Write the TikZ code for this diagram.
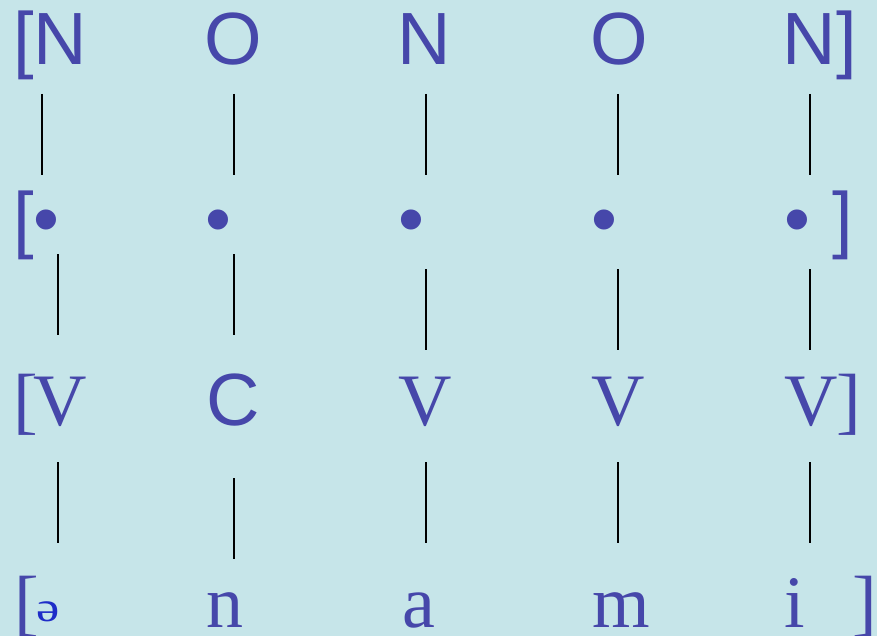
\documentclass[tikz,border=0pt]{standalone}
\usepackage{fontspec}
\setmainfont{Liberation Serif}
\newfontfamily\sansf{Liberation Sans}
\definecolor{bgc}{RGB}{198,229,233}
\definecolor{txc}{RGB}{70,71,170}
\definecolor{schwac}{RGB}{30,45,200}
\tikzset{
  sl/.style={anchor=base, inner sep=0pt, text=txc, font=\sansf\fontsize{74}{80}\selectfont},
  rl/.style={anchor=base, inner sep=0pt, text=txc, font=\rmfamily\fontsize{74}{80}\selectfont},
  flat/.style={text depth=0pt},
  assoc/.style={draw=black, line width=1.8pt}
}
\begin{document}
\begin{tikzpicture}[x=1pt,y=-1pt]
\fill[bgc] (0,0) rectangle (877,636);
\useasboundingbox (0,0) rectangle (877,636);
% row 1
\node[sl] (lb1) at (23.5,65) {[};
\node[sl] (n1) at (60.5,65) {N};
\node[sl] (o1) at (233.5,65) {O};
\node[sl] (n2) at (424.5,65) {N};
\node[sl] (o2) at (619.5,65) {O};
\node[sl] (n3) at (809.5,65) {N};
\node[sl] (rb1) at (847,65) {]};
% row 2
\node[sl] (lb2) at (24,244) {[};
\node[sl] (d1) at (46.7,244) {•};
\node[sl] (d2) at (218,244) {•};
\node[sl] (d3) at (411,244) {•};
\node[sl] (d4) at (604,244) {•};
\node[sl] (d5) at (797,244) {•};
\node[sl] (rb2) at (843,244) {]};
% row 3
\node[rl] (lb3) at (25.5,425) {[};
\node[rl] (v1) at (60,425) {V};
\node[sl] (c1) at (233,425) {C};
\node[rl] (v2) at (425.5,425) {V};
\node[rl] (v3) at (618,425) {V};
\node[rl] (v4) at (811,425) {V};
\node[rl] (rb3) at (849,425) {]};
% row 4
\node[rl] (lb4) at (26.5,627) {[};
\node[anchor=base, inner sep=0pt, flat, text=schwac, font=\rmfamily\fontsize{42}{46}\selectfont] (sw) at (48.5,621) {\scalebox{1.25}[1]{ə}};
\node[rl, flat] (s2) at (225,627) {n};
\node[rl, flat] (s3) at (418.5,627) {a};
\node[rl, flat] (s4) at (621,627) {m};
\node[rl, flat] (s5) at (794.5,627) {i};
\node[rl] (rb4) at (865,627) {]};
% association lines
\foreach \i/\x in {1/42,2/234,3/426,4/618,5/810} {
  \coordinate (ta\i) at (\x,94);
  \coordinate (tb\i) at (\x,175);
  \draw[assoc] (ta\i) -- (tb\i);
}
\foreach \i/\x/\ya/\yb in {1/58/254/335,2/234/254/335,3/426/269/350,4/618/269/350,5/810/269/350} {
  \coordinate (ma\i) at (\x,\ya);
  \coordinate (mb\i) at (\x,\yb);
  \draw[assoc] (ma\i) -- (mb\i);
}
\foreach \i/\x/\ya/\yb in {1/58/462/543,2/234/478/559,3/426/462/543,4/618/462/543,5/810/462/543} {
  \coordinate (ba\i) at (\x,\ya);
  \coordinate (bb\i) at (\x,\yb);
  \draw[assoc] (ba\i) -- (bb\i);
}
\end{tikzpicture}
\end{document}
